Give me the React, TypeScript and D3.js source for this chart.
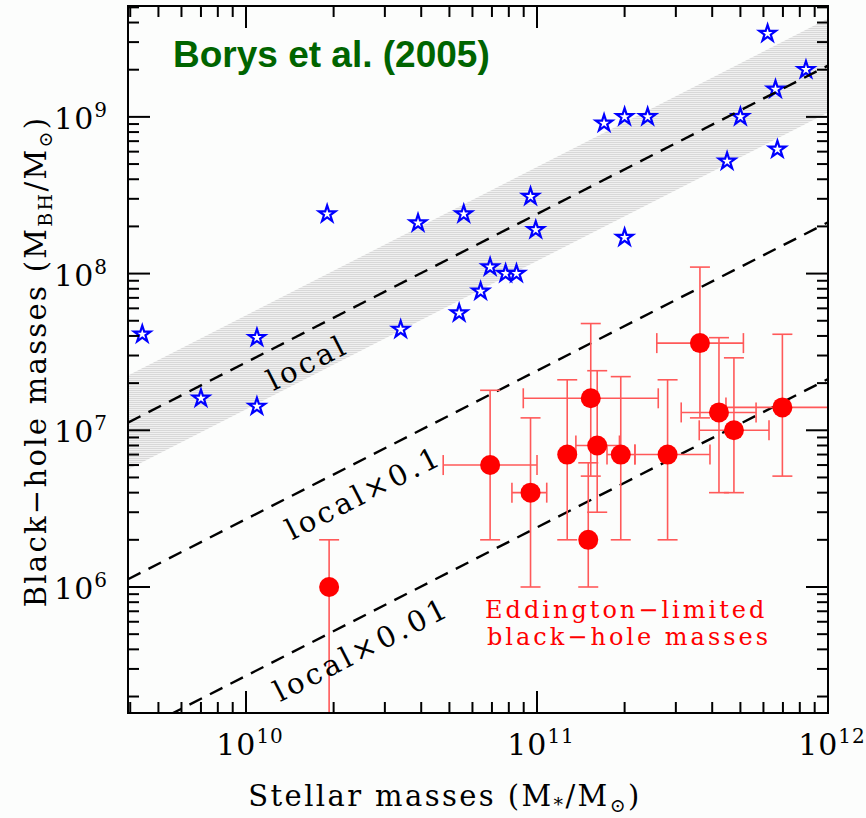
import React, { useEffect } from "react";
import * as d3 from "d3";

const W = 866;
const H = 818;
const plot = { left: 128, right: 828, top: 6, bottom: 713 };

// Borys et al. (2005) objects (blue stars)
const starMass = [4.4e9, 7.0e9, 1.09e10, 1.09e10, 1.9e10, 3.4e10, 3.9e10, 5.4e10, 5.6e10, 6.4e10, 6.9e10, 7.8e10, 8.5e10, 9.5e10, 9.9e10, 1.7e11, 2.0e11, 2.4e11, 2.0e11, 4.5e11, 5.0e11, 6.2e11, 6.6e11, 6.7e11, 8.4e11];
const starBH = [4.1e7, 1.6e7, 3.9e7, 1.42e7, 2.4e8, 4.4e7, 2.1e8, 5.6e7, 2.4e8, 7.7e7, 1.1e8, 1.0e8, 1.0e8, 3.1e8, 1.9e8, 9.1e8, 1.0e9, 1.0e9, 1.7e8, 5.2e8, 1.0e9, 3.4e9, 1.5e9, 6.2e8, 2.0e9];

// Eddington-limited black-hole masses (red points, with error bars; null = no bar)
const eddMass = [1.93e10, 6.9e10, 9.5e10, 1.27e11, 1.5e11, 1.53e11, 1.61e11, 1.94e11, 2.81e11, 3.63e11, 4.22e11, 4.75e11, 6.97e11];
const eddMassLo = [null, 4.76e10, 8.2e10, null, null, 8.97e10, 1.36e11, 1.74e11, 2.17e11, 2.58e11, 3.13e11, 3.61e11, 4.46e11];
const eddMassHi = [null, 1.0e11, 1.08e11, null, null, 2.61e11, 1.92e11, 2.17e11, 3.93e11, 5.12e11, 5.66e11, 6.27e11, 1.08e12];
const eddBH = [1.0e6, 6.0e6, 4.0e6, 7.0e6, 2.0e6, 1.6e7, 8.0e6, 7.0e6, 7.0e6, 3.6e7, 1.3e7, 1.0e7, 1.4e7];
const eddBHLo = [1.0e5, 2.0e6, 1.0e6, 2.0e6, 1.0e6, 5.1e6, 3.0e6, 2.0e6, 2.0e6, 1.2e7, 4.0e6, 4.0e6, 5.1e6];
const eddBHHi = [2.0e6, 1.8e7, 1.2e7, 2.1e7, 6.2e6, 4.8e7, 2.4e7, 2.2e7, 2.1e7, 1.1e8, 3.9e7, 2.9e7, 4.1e7];

// local relation and its scaled copies
const localNorm = 2.4e8; // M_BH at M* = 1e11
const localSlope = 0.947;
const bandDex = 0.3;
const localFactors = [1, 0.1, 0.01];
const localLabels = ["local", "local×0.1", "local×0.01"];
const localLabelMass = [1.47e10, 2.28e10, 2.25e10];
const localLabelOffset = [38, 40, 39];

const local = (m: number) => localNorm * Math.pow(m / 1e11, localSlope);

const serif = "'DejaVu Serif', serif";

const App = () => {
  useEffect(() => {
    document.body.style.margin = "0";
    document.body.style.background = "#fcfdfc";
  }, []);

  const x = d3.scaleLog().domain([3.93e9, 1e12]).range([plot.left, plot.right]);
  const y = d3.scaleLog().domain([1.57e5, 5.1e9]).range([plot.bottom, plot.top]);

  const [m0, m1] = x.domain();
  const isMajor = (t: number) => Math.abs(Math.log10(t) - Math.round(Math.log10(t))) < 1e-9;

  const band = d3
    .area<number>()
    .x((m) => x(m))
    .y0((m) => y(local(m) * Math.pow(10, -bandDex)))
    .y1((m) => y(local(m) * Math.pow(10, bandDex)))([m0, m1]);

  const line = d3.line<number>();
  const angle = (Math.atan2(y(local(m1)) - y(local(m0)), x(m1) - x(m0)) * 180) / Math.PI;

  const star = d3.symbol(d3.symbolStar, 85)();

  const capW = 10;
  const errColor = "#ff5959";

  return (
    <svg width={W} height={H} style={{ display: "block" }}>
      <defs>
        <pattern id="hatch" patternUnits="userSpaceOnUse" width={8} height={2}>
          <rect width={8} height={2} fill="#f0f0f0" />
          <rect y={0} width={8} height={1} fill="#d8d8d8" />
        </pattern>
        <clipPath id="plotClip">
          <rect x={plot.left} y={plot.top} width={plot.right - plot.left} height={plot.bottom - plot.top} />
        </clipPath>
      </defs>
      <rect width={W} height={H} fill="#fcfdfc" />

      <g clipPath="url(#plotClip)">
        <path d={band || ""} fill="url(#hatch)" />

        {starMass.map((m, i) => (
          <path
            key={"s" + i}
            d={star || ""}
            transform={`translate(${x(m)},${y(starBH[i])})`}
            fill="#ffffff"
            stroke="#0000ff"
            strokeWidth={2.2}
          />
        ))}

        {localFactors.map((f, i) => (
          <path
            key={"l" + i}
            d={line([[x(m0), y(f * local(m0))], [x(m1), y(f * local(m1))]]) || ""}
            fill="none"
            stroke="#000"
            strokeWidth={2.4}
            strokeDasharray="14 9"
          />
        ))}

        {eddMass.map((m, i) => {
          const cx = x(m);
          const cy = y(eddBH[i]);
          const lo = eddMassLo[i];
          const hi = eddMassHi[i];
          const ylo = y(eddBHLo[i]);
          const yhi = y(eddBHHi[i]);
          return (
            <g key={"e" + i} stroke={errColor} strokeWidth={1.6}>
              <line x1={cx} x2={cx} y1={ylo} y2={yhi} />
              <line x1={cx - capW} x2={cx + capW} y1={yhi} y2={yhi} />
              <line x1={cx - capW} x2={cx + capW} y1={ylo} y2={ylo} />
              {lo !== null && hi !== null && (
                <g>
                  <line x1={x(lo)} x2={x(hi)} y1={cy} y2={cy} />
                  <line x1={x(lo)} x2={x(lo)} y1={cy - capW} y2={cy + capW} />
                  <line x1={x(hi)} x2={x(hi)} y1={cy - capW} y2={cy + capW} />
                </g>
              )}
            </g>
          );
        })}
        {eddMass.map((m, i) => (
          <circle key={"c" + i} cx={x(m)} cy={y(eddBH[i])} r={10} fill="#ff0000" />
        ))}
      </g>

      {localLabels.map((t, i) => {
        const m = localLabelMass[i];
        const px = x(m);
        const py = y(localFactors[i] * local(m));
        return (
          <text
            key={"lt" + i}
            transform={`translate(${px},${py}) rotate(${angle}) translate(0,${localLabelOffset[i]})`}
            textAnchor="middle"
            fontFamily={serif}
            fontSize={29}
            letterSpacing={3.5}
            fill="#000"
          >
            {t}
          </text>
        );
      })}

      <text x={485} y={618} fontFamily={serif} fontSize={24} letterSpacing={3} fill="#ff0000">
        Eddington−limited
      </text>
      <text x={487} y={645} fontFamily={serif} fontSize={24} letterSpacing={3} fill="#ff0000">
        black−hole masses
      </text>

      <text x={173} y={67} fontFamily="'Liberation Sans', Arial, sans-serif" fontWeight="bold" fontSize={37} fill="#006400">
        Borys et al. (2005)
      </text>

      {/* frame and ticks */}
      <rect
        x={plot.left}
        y={plot.top}
        width={plot.right - plot.left}
        height={plot.bottom - plot.top}
        fill="none"
        stroke="#000"
        strokeWidth={2}
      />
      <g stroke="#000" strokeWidth={2}>
        {x.ticks().map((t, i) => {
          const len = isMajor(t) ? 22 : 11;
          const px = x(t);
          return (
            <g key={"xt" + i}>
              <line x1={px} x2={px} y1={plot.bottom} y2={plot.bottom - len} />
              <line x1={px} x2={px} y1={plot.top} y2={plot.top + len} />
            </g>
          );
        })}
        {y.ticks().map((t, i) => {
          const len = isMajor(t) ? 22 : 11;
          const py = y(t);
          return (
            <g key={"yt" + i}>
              <line x1={plot.left} x2={plot.left + len} y1={py} y2={py} />
              <line x1={plot.right} x2={plot.right - len} y1={py} y2={py} />
            </g>
          );
        })}
      </g>

      {x.ticks().filter(isMajor).map((t, i) => (
        <text key={"xl" + i} x={x(t) + 4} y={755} textAnchor="middle" fontFamily={serif} fontSize={30} letterSpacing={1} fill="#000">
          10
          <tspan fontSize={20} dy={-12}>
            {Math.round(Math.log10(t))}
          </tspan>
        </text>
      ))}
      {y.ticks().filter(isMajor).map((t, i) => (
        <text key={"yl" + i} x={108} y={y(t) + 12} textAnchor="end" fontFamily={serif} fontSize={30} letterSpacing={1} fill="#000">
          10
          <tspan fontSize={20} dy={-12}>
            {Math.round(Math.log10(t))}
          </tspan>
        </text>
      ))}

      <text x={445} y={806} textAnchor="middle" fontFamily={serif} fontSize={29} letterSpacing={2.4} fill="#000">
        Stellar masses (M
        <tspan fontSize={19} dy={5}>
          *
        </tspan>
        <tspan dy={-5}>/M</tspan>
        <tspan fontSize={19} dy={6}>
          ⊙
        </tspan>
        <tspan dy={-6}>)</tspan>
      </text>

      <text
        transform={`translate(46,${(plot.top + plot.bottom) / 2 + 2}) rotate(-90)`}
        textAnchor="middle"
        fontFamily={serif}
        fontSize={29}
        letterSpacing={2.3}
        fill="#000"
      >
        Black−hole masses (M
        <tspan fontSize={19} dy={6}>
          BH
        </tspan>
        <tspan dy={-6}>/M</tspan>
        <tspan fontSize={19} dy={6}>
          ⊙
        </tspan>
        <tspan dy={-6}>)</tspan>
      </text>
    </svg>
  );
};

export default App;
